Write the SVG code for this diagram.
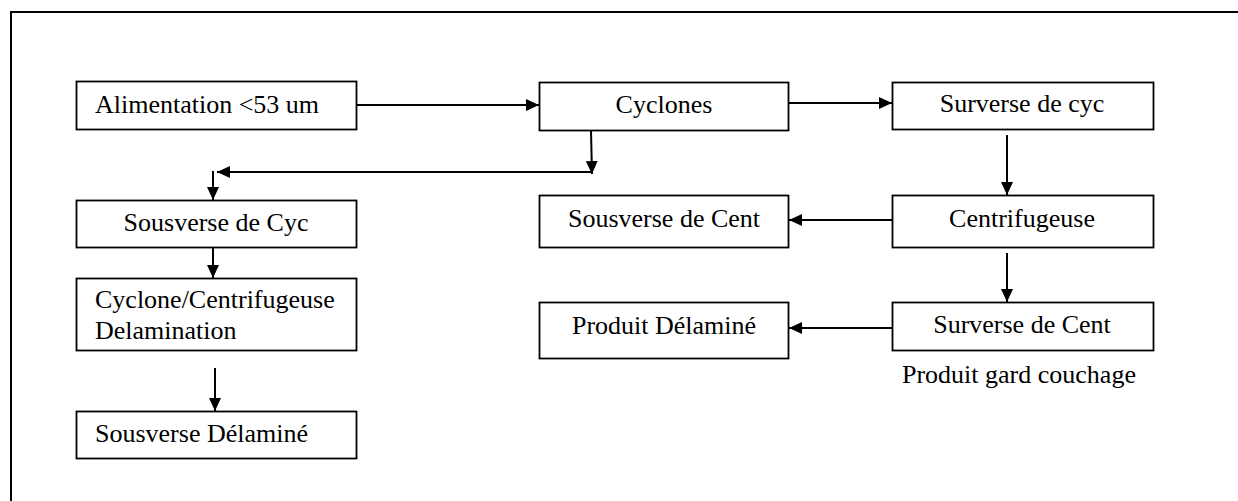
<svg xmlns="http://www.w3.org/2000/svg" width="1238" height="501" viewBox="0 0 1238 501">
  <style>
    .box { fill: #ffffff; stroke: #000000; stroke-width: 1.8; }
    .lbl { font-family: 'Liberation Serif', 'Times New Roman', serif; font-size: 26px; fill: #000000; }
    .mid { text-anchor: middle; }
    .wire { fill: none; stroke: #000000; stroke-width: 2; }
  </style>
  <defs>
    <marker id="arrow" viewBox="0 0 13 12" refX="13" refY="6" markerWidth="13" markerHeight="12" markerUnits="userSpaceOnUse" orient="auto">
      <path d="M0,0 L13,6 L0,12 Z" fill="#000000"/>
    </marker>
  </defs>
  <rect width="1238" height="501" fill="#ffffff"/>

  <!-- page frame (top and left edges) -->
  <path d="M11,520 L11,12 L1240,12" fill="none" stroke="#000000" stroke-width="2"/>

  <!-- left column -->
  <g id="alimentation">
    <rect class="box" x="76.5" y="81.5" width="280" height="48"/>
    <text class="lbl" x="95" y="113">Alimentation &lt;53 um</text>
  </g>
  <g id="sousverse-cyc">
    <rect class="box" x="76.5" y="200.5" width="280" height="47"/>
    <text class="lbl mid" x="216" y="231">Sousverse de Cyc</text>
  </g>
  <g id="cyclone-centrifugeuse">
    <rect class="box" x="76.5" y="278.5" width="280" height="72"/>
    <text class="lbl" x="95" y="308">Cyclone/Centrifugeuse</text>
    <text class="lbl" x="95" y="339">Delamination</text>
  </g>
  <g id="sousverse-delamine">
    <rect class="box" x="76.5" y="411.5" width="280" height="47"/>
    <text class="lbl" x="95" y="442">Sousverse Délaminé</text>
  </g>

  <!-- middle column -->
  <g id="cyclones">
    <rect class="box" x="539.5" y="82.5" width="249" height="48"/>
    <text class="lbl mid" x="664" y="113">Cyclones</text>
  </g>
  <g id="sousverse-cent">
    <rect class="box" x="539.5" y="195.5" width="249" height="52"/>
    <text class="lbl mid" x="664" y="227">Sousverse de Cent</text>
  </g>
  <g id="produit-delamine">
    <rect class="box" x="539.5" y="302.5" width="249" height="56"/>
    <text class="lbl mid" x="664" y="334">Produit Délaminé</text>
  </g>

  <!-- right column -->
  <g id="surverse-cyc">
    <rect class="box" x="892.5" y="82.5" width="261" height="47"/>
    <text class="lbl mid" x="1022" y="112">Surverse de cyc</text>
  </g>
  <g id="centrifugeuse">
    <rect class="box" x="892.5" y="195.5" width="261" height="52"/>
    <text class="lbl mid" x="1022" y="227">Centrifugeuse</text>
  </g>
  <g id="surverse-cent">
    <rect class="box" x="892.5" y="302.5" width="261" height="48"/>
    <text class="lbl mid" x="1022" y="333">Surverse de Cent</text>
  </g>
  <g id="note-couchage">
    <text class="lbl" x="902" y="383">Produit gard couchage</text>
  </g>

  <!-- connectors -->
  <g id="connectors">
    <line class="wire" x1="357" y1="105" x2="539" y2="105" marker-end="url(#arrow)"/>
    <line class="wire" x1="789" y1="103" x2="892" y2="103" marker-end="url(#arrow)"/>
    <line class="wire" x1="591" y1="131" x2="592" y2="174" marker-end="url(#arrow)"/>
    <line class="wire" x1="593" y1="172" x2="217" y2="172" marker-end="url(#arrow)"/>
    <line class="wire" x1="213" y1="171" x2="213" y2="200" marker-end="url(#arrow)"/>
    <line class="wire" x1="213" y1="248" x2="213" y2="278" marker-end="url(#arrow)"/>
    <line class="wire" x1="215" y1="368" x2="215" y2="411" marker-end="url(#arrow)"/>
    <line class="wire" x1="1007" y1="135" x2="1007" y2="195" marker-end="url(#arrow)"/>
    <line class="wire" x1="892" y1="220" x2="789" y2="220" marker-end="url(#arrow)"/>
    <line class="wire" x1="1007" y1="253" x2="1007" y2="302" marker-end="url(#arrow)"/>
    <line class="wire" x1="892" y1="328" x2="789" y2="328" marker-end="url(#arrow)"/>
  </g>
</svg>
